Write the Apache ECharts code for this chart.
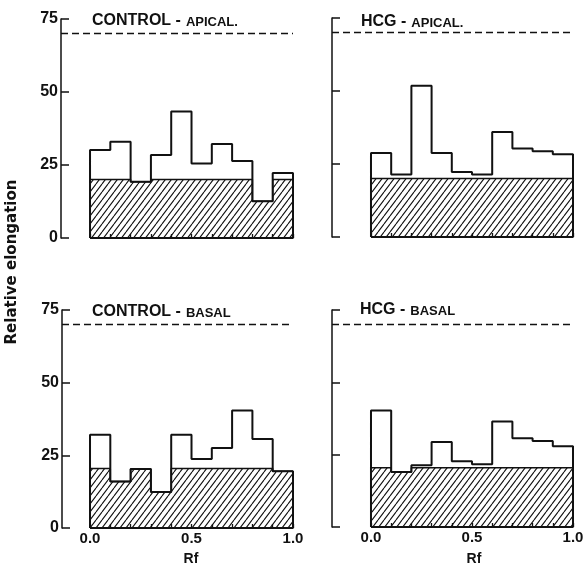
<!DOCTYPE html>
<html>
<head>
<meta charset="utf-8">
<script src="https://cdn.jsdelivr.net/npm/echarts@6/dist/echarts.min.js"></script>
<style>
  html, body { margin: 0; padding: 0; background: #fff; }
  #chart { width: 587px; height: 565px; }
</style>
</head>
<body>
<div id="chart"></div>
<script>
// bin starts along Rf, each bin is 0.1 wide
const rfBins = [0, 0.1, 0.2, 0.3, 0.4, 0.5, 0.6, 0.7, 0.8, 0.9]
const binWidth = 0.1
const xTickValues = [0, 0.1, 0.2, 0.3, 0.4, 0.5, 0.6, 0.7, 0.8, 0.9, 1.0]
const xLabelValues = [0, 0.5, 1.0]
const refLevel = 70

// total relative elongation per bin
const ctrlApical = [30.1, 33.0, 19.3, 28.4, 43.3, 25.5, 32.2, 26.4, 12.6, 22.3]
const hcgApical = [28.8, 21.4, 51.8, 28.8, 22.3, 21.4, 36.0, 30.3, 29.4, 28.3]
const ctrlBasal = [32.1, 16.0, 20.3, 12.4, 32.1, 23.7, 27.5, 40.4, 30.6, 19.5]
const hcgBasal = [40.3, 19.0, 21.3, 29.4, 22.7, 21.7, 36.5, 30.7, 29.7, 27.9]

// hatched (baseline) part per bin
const ctrlApicalHatch = [20, 20, 19.3, 20, 20, 20, 20, 20, 12.6, 20]
const hcgApicalHatch = [20, 20, 20, 20, 20, 20, 20, 20, 20, 20]
const ctrlBasalHatch = [20.5, 16.0, 20.3, 12.4, 20.5, 20.5, 20.5, 20.5, 20.5, 19.5]
const hcgBasalHatch = [20.5, 19.0, 20.5, 20.5, 20.5, 20.5, 20.5, 20.5, 20.5, 20.5]

const FONT = '"Liberation Sans", Arial, sans-serif'
const INK = '#111'

// diagonal hatch pattern
function makeHatch() {
  const w = 6, h = 8
  const c = document.createElement('canvas')
  c.width = w; c.height = h
  const ctx = c.getContext('2d')
  ctx.fillStyle = '#fff'
  ctx.fillRect(0, 0, w, h)
  ctx.strokeStyle = INK
  ctx.lineWidth = 1.1
  ctx.beginPath()
  ctx.moveTo(-w, h); ctx.lineTo(0, 0)
  ctx.moveTo(0, h); ctx.lineTo(w, 0)
  ctx.moveTo(w, h); ctx.lineTo(2 * w, 0)
  ctx.stroke()
  return c
}
const hatchImg = makeHatch()

const panels = [
  { grid: { left: 61, top: 19, width: 232, height: 219 }, xMin: -0.143, yLabels: true, xLabels: false,
    big: 'CONTROL -', small: 'APICAL.', titlePos: [92, 12], total: ctrlApical, hatch: ctrlApicalHatch },
  { grid: { left: 332, top: 18, width: 241, height: 219 }, xMin: -0.193, yLabels: false, xLabels: false,
    big: 'HCG -', small: 'APICAL.', titlePos: [361, 13], total: hcgApical, hatch: hcgApicalHatch },
  { grid: { left: 62, top: 310, width: 231, height: 218 }, xMin: -0.138, yLabels: true, xLabels: true,
    big: 'CONTROL -', small: 'BASAL', titlePos: [92, 303], total: ctrlBasal, hatch: ctrlBasalHatch },
  { grid: { left: 332, top: 310, width: 241, height: 217 }, xMin: -0.193, yLabels: false, xLabels: true,
    big: 'HCG -', small: 'BASAL', titlePos: [360, 301], total: hcgBasal, hatch: hcgBasalHatch }
]

function stepPoints(vals) {
  const pts = rfBins.map((x, i) => [x, vals[i]])
  pts.push([rfBins[rfBins.length - 1] + binWidth, vals[vals.length - 1]])
  return pts
}

function outlinePoints(vals) {
  const pts = [[rfBins[0], 0]].concat(stepPoints(vals))
  pts.push([rfBins[rfBins.length - 1] + binWidth, 0])
  pts.push([rfBins[0], 0])
  return pts
}

const grids = [], xAxes = [], yAxes = [], series = [], titles = []

panels.forEach(function (p, i) {
  grids.push(Object.assign({ outerBoundsMode: 'none' }, p.grid))
  xAxes.push({
    type: 'value', gridIndex: i, min: p.xMin, max: 1, z: 10,
    axisLine: { show: false, onZero: false },
    splitLine: { show: false },
    axisTick: { show: true, inside: true, length: 4, customValues: xTickValues,
      lineStyle: { color: INK, width: 1.3 } },
    axisLabel: { show: p.xLabels, customValues: xLabelValues, margin: 3,
      color: INK, fontFamily: FONT, fontWeight: 'bold', fontSize: 15,
      formatter: v => v.toFixed(1) }
  })
  yAxes.push({
    type: 'value', gridIndex: i, min: 0, max: 75, interval: 25,
    axisLine: { show: true, onZero: false, lineStyle: { color: INK, width: 1.5 } },
    axisTick: { show: true, inside: true, length: 8, lineStyle: { color: INK, width: 1.5 } },
    splitLine: { show: false },
    axisLabel: { show: p.yLabels, margin: 3, color: INK, fontFamily: FONT,
      fontWeight: 'bold', fontSize: 16 }
  })
  series.push({
    type: 'line', xAxisIndex: i, yAxisIndex: i, step: 'end',
    data: stepPoints(p.hatch), showSymbol: false, z: 2,
    lineStyle: { color: INK, width: 1.5 },
    areaStyle: { color: { image: hatchImg, repeat: 'repeat' }, opacity: 1 }
  })
  series.push({
    type: 'line', xAxisIndex: i, yAxisIndex: i, step: 'end',
    data: outlinePoints(p.total), showSymbol: false, z: 3,
    lineStyle: { color: INK, width: 2 },
    markLine: {
      silent: true, symbol: 'none', label: { show: false },
      lineStyle: { color: INK, width: 1.3, type: [7, 4] },
      data: [{ yAxis: refLevel }]
    }
  })
  titles.push({
    text: '{big|' + p.big + '} {small|' + p.small + '}',
    left: p.titlePos[0], top: p.titlePos[1], padding: 0,
    textStyle: {
      rich: {
        big: { fontFamily: FONT, fontWeight: 'bold', fontSize: 16, color: INK },
        small: { fontFamily: FONT, fontWeight: 'bold', fontSize: 13, color: INK, padding: [2, 0, 0, 0] }
      }
    }
  })
})

const chart = echarts.init(document.getElementById('chart'))
chart.setOption({
  backgroundColor: '#fff',
  animation: false,
  title: titles,
  grid: grids,
  xAxis: xAxes,
  yAxis: yAxes,
  series: series,
  graphic: [
    { type: 'text', x: 12, y: 262, rotation: Math.PI / 2,
      style: { text: 'Relative elongation', fill: INK, font: 'bold 15px "DejaVu Sans", sans-serif',
        align: 'center', verticalAlign: 'middle' } },
    { type: 'text', x: 191, y: 559,
      style: { text: 'Rf', fill: INK, font: 'bold 14px ' + FONT, align: 'center', verticalAlign: 'middle' } },
    { type: 'text', x: 474, y: 559,
      style: { text: 'Rf', fill: INK, font: 'bold 14px ' + FONT, align: 'center', verticalAlign: 'middle' } }
  ]
})
</script>
</body>
</html>
